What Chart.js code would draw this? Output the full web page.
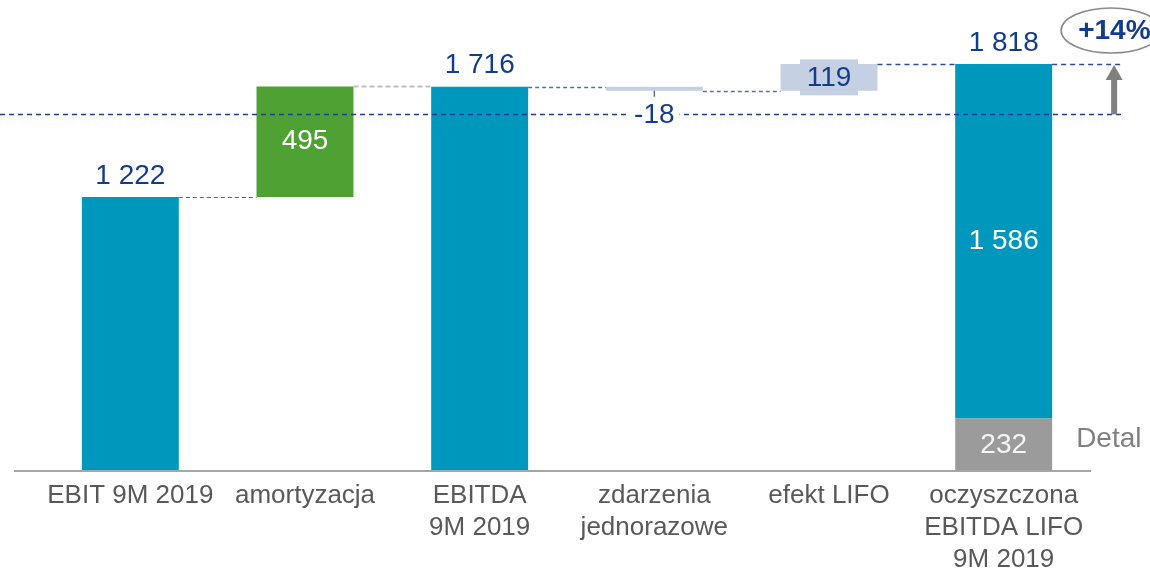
<!DOCTYPE html>
<html>
<head>
<meta charset="utf-8">
<script src="https://cdn.jsdelivr.net/npm/chart.js@4.4.1/dist/chart.umd.min.js"></script>
<style>
html,body{margin:0;padding:0;background:#fff;}
#wrap{width:1150px;height:573px;position:relative;}
</style>
</head>
<body>
<div id="wrap"><canvas id="c" width="1150" height="573"></canvas></div>
<script>
// ---- data ----
const categories = [
  'EBIT 9M 2019',
  'amortyzacja',
  ['EBITDA', '9M 2019'],
  ['zdarzenia', 'jednorazowe'],
  'efekt LIFO',
  ['oczyszczona', 'EBITDA LIFO', '9M 2019']
];
const stepValues = [1222, 495, 1716, -18, 119, 1586]; // displayed values
const stepKinds  = ['total', 'delta', 'total', 'delta', 'delta', 'total'];
const detalValue = 232;          // bottom part of last bar
const totalLabels = ['1 222', null, '1 716', null, null, '1 818'];
const innerLabels = [null, '495', null, '-18', '119', '1 586'];
const referenceLevel = 1592;     // previous-period level (dashed line)
const growthLabel = '+14%';
const detalLabel = 'Detal';

// ---- derive floating bars ----
const TEAL = '#0097BD', GREEN = '#4EA132', LIGHT = '#C5D0E2', GREY = '#9B9B9B', NAVY = '#143C8C';
const ranges = [];
let level = 0;
stepValues.forEach((v, i) => {
  if (stepKinds[i] === 'total') {
    if (i === stepValues.length - 1) { ranges.push([detalValue, detalValue + v]); level = detalValue + v; }
    else { ranges.push([0, v]); level = v; }
  } else {
    ranges.push([level, level + v]); level = level + v;
  }
});
const barColors = [TEAL, GREEN, TEAL, LIGHT, LIGHT, TEAL];
const detalData = categories.map((c, i) => i === categories.length - 1 ? [0, detalValue] : null);

const fmt = n => String(Math.round(n)).replace(/\B(?=(\d{3})+(?!\d))/g, ' ');

const overlay = {
  id: 'overlay',
  afterDatasetsDraw(chart) {
    const ctx = chart.ctx;
    const ys = chart.scales.y;
    const ca = chart.chartArea;
    const bars = chart.getDatasetMeta(0).data;
    const dbars = chart.getDatasetMeta(1).data;
    const half = i => bars[i].width / 2;
    const L = i => bars[i].x - half(i), R = i => bars[i].x + half(i);
    ctx.save();

    // axis line
    ctx.strokeStyle = '#A6A6A6'; ctx.lineWidth = 2; ctx.setLineDash([]);
    ctx.beginPath(); ctx.moveTo(14, ca.bottom + 1); ctx.lineTo(R(5) + 39, ca.bottom + 1); ctx.stroke();

    function dash(x1, x2, v, color, w, pat) {
      const y = Math.round(ys.getPixelForValue(v)) + 0.5;
      ctx.strokeStyle = color; ctx.lineWidth = w; ctx.setLineDash(pat);
      ctx.beginPath(); ctx.moveTo(x1, y); ctx.lineTo(x2, y); ctx.stroke();
    }
    // connectors
    dash(R(0), L(1), ranges[0][1], '#4A62A0', 1, [4, 3]);
    dash(R(1), L(2), ranges[1][1], '#C0C0C0', 2, [5, 3]);
    dash(R(2), L(3), ranges[2][1], '#5570A8', 1.3, [4, 3]);
    dash(R(3), L(4), ranges[3][1], '#5570A8', 1.3, [4, 3]);
    dash(R(4), L(5), ranges[5][1], '#2A4DA0', 1.3, [5, 4]);
    dash(R(5), R(5) + 68, ranges[5][1], '#2A4DA0', 1.3, [5, 4]);
    // reference line
    dash(0, R(5) + 72, referenceLevel, '#1F3F99', 1.3, [5, 4]);
    ctx.setLineDash([]);

    // small tick under -18 bar
    const yb = ys.getPixelForValue(ranges[3][1]);
    ctx.strokeStyle = '#5570A8'; ctx.lineWidth = 1.5;
    ctx.beginPath(); ctx.moveTo(bars[3].x, yb); ctx.lineTo(bars[3].x, yb + 6); ctx.stroke();

    ctx.textAlign = 'center'; ctx.textBaseline = 'middle';
    const F = (s, b) => (b ? 'bold ' : '') + s + 'px "Liberation Sans", Arial, sans-serif';

    // total labels above bars
    ctx.font = F(28); ctx.fillStyle = NAVY;
    totalLabels.forEach((t, i) => {
      if (!t) return;
      const top = ys.getPixelForValue(Math.max(...ranges[i]));
      ctx.fillText(t, bars[i].x, top - 21);
    });

    // inner labels
    ctx.fillStyle = '#FFFFFF';
    ctx.fillText(innerLabels[1], bars[1].x, (ys.getPixelForValue(ranges[1][0]) + ys.getPixelForValue(ranges[1][1])) / 2);
    ctx.fillText(innerLabels[5], bars[5].x, (ys.getPixelForValue(ranges[5][0]) + ys.getPixelForValue(ranges[5][1])) / 2);
    ctx.fillStyle = '#F4F4F4';
    ctx.fillText(fmt(detalValue), dbars[5].x, (ys.getPixelForValue(0) + ys.getPixelForValue(detalValue)) / 2 + 1);

    // -18 below bar with white backing
    const ym = ys.getPixelForValue(referenceLevel);
    const tw = ctx.measureText(innerLabels[3]).width;
    ctx.fillStyle = '#FFFFFF';
    ctx.fillRect(bars[3].x - tw / 2 - 5, ym - 6, tw + 10, 12);
    ctx.fillStyle = NAVY;
    ctx.fillText(innerLabels[3], bars[3].x, ym + 1);

    // 119 label box
    const y119 = (ys.getPixelForValue(ranges[4][0]) + ys.getPixelForValue(ranges[4][1])) / 2;
    ctx.fillStyle = LIGHT;
    ctx.fillRect(bars[4].x - 29, y119 - 18, 58, 36);
    ctx.fillStyle = NAVY;
    ctx.fillText(innerLabels[4], bars[4].x, y119 + 1);

    // Detal label
    ctx.textAlign = 'left'; ctx.fillStyle = '#808080'; ctx.font = F(28);
    ctx.fillText(detalLabel, R(5) + 24, (ys.getPixelForValue(0) + ys.getPixelForValue(detalValue)) / 2 - 5);

    // arrow
    const ax = R(5) + 62;
    const yTop = ys.getPixelForValue(ranges[5][1]);
    ctx.fillStyle = '#808080'; ctx.strokeStyle = '#808080'; ctx.lineWidth = 6;
    ctx.beginPath(); ctx.moveTo(ax, ym); ctx.lineTo(ax, yTop + 14); ctx.stroke();
    ctx.beginPath(); ctx.moveTo(ax - 8.5, yTop + 16); ctx.lineTo(ax + 8.5, yTop + 16); ctx.lineTo(ax, yTop + 1); ctx.closePath(); ctx.fill();

    // ellipse with growth label
    ctx.strokeStyle = '#8A8A8A'; ctx.lineWidth = 1.6;
    ctx.beginPath(); ctx.ellipse(ax - 3, 30.5, 50, 22.5, 0, 0, Math.PI * 2); ctx.stroke();
    ctx.fillStyle = NAVY; ctx.font = F(28, true); ctx.textAlign = 'left';
    ctx.fillText(growthLabel, ax - 36, 31);

    ctx.restore();
  }
};

new Chart(document.getElementById('c'), {
  type: 'bar',
  data: {
    labels: categories,
    datasets: [
      { data: ranges, backgroundColor: barColors, borderWidth: 0, grouped: false,
        barPercentage: 0.555, categoryPercentage: 1, borderSkipped: false },
      { data: detalData, backgroundColor: GREY, borderWidth: 0, grouped: false,
        barPercentage: 0.555, categoryPercentage: 1, borderSkipped: false }
    ]
  },
  options: {
    responsive: false,
    animation: false,
    devicePixelRatio: 1,
    layout: { padding: { left: 43, right: 59, top: 0, bottom: 0 } },
    plugins: { legend: { display: false }, tooltip: { enabled: false } },
    scales: {
      y: { display: false, min: 0, max: 2104 },
      x: {
        grid: { display: false, drawTicks: false },
        border: { display: false },
        ticks: { color: '#595959', padding: 10, maxRotation: 0, autoSkip: false,
          font: { family: '"Liberation Sans", Arial, sans-serif', size: 26, lineHeight: 1.23 } },
        afterFit: s => { s.height = 103; }
      }
    }
  },
  plugins: [overlay]
});
</script>
</body>
</html>
